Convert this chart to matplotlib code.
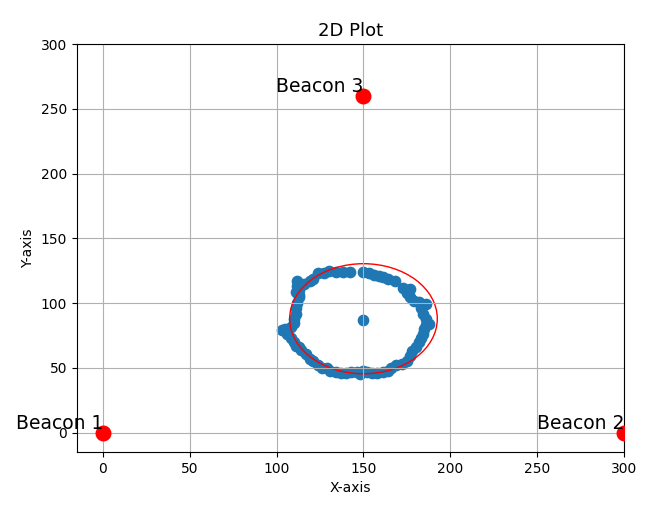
import numpy as np
import matplotlib
matplotlib.use('Agg')
import matplotlib.pyplot as plt
from matplotlib.patches import Circle

# Beacon positions and names
beacon_x = [0, 300, 150]
beacon_y = [0, 0, 260]
beacon_names = ['Beacon 1', 'Beacon 2', 'Beacon 3']

# Estimated positions
pos_x = [112, 112, 111, 113, 112, 111, 111, 110, 110, 108, 105, 103, 106, 108, 110,
         111, 113, 114, 117, 119, 121, 124, 126, 129, 131, 134, 137, 140, 143, 146,
         148, 150, 152, 155, 158, 161, 164, 166, 169, 172, 175, 177, 178, 180, 182,
         183, 184, 185, 186, 188, 186, 184, 183, 186, 182, 179, 177, 175, 177, 173,
         168, 164, 161, 159, 156, 153, 150, 142, 138, 134, 130, 127, 124, 121, 119,
         116, 114, 113, 113, 150]
pos_y = [117, 113, 109, 105, 100, 96, 92, 88, 85, 82, 80, 79, 76, 73, 70,
         67, 66, 64, 61, 57, 55, 52, 50, 50, 48, 47, 46, 46, 47, 47,
         45, 48, 47, 46, 46, 47, 48, 50, 52, 53, 55, 59, 63, 66, 70,
         73, 76, 80, 83, 84, 88, 92, 96, 99, 101, 102, 105, 108, 111, 112,
         117, 119, 120, 121, 122, 123, 124, 124, 124, 124, 125, 123, 123, 119, 117,
         115, 114, 110, 106, 87]

# Fitted circle
circle_center = (150, 88)
circle_radius = 42.5

fig = plt.figure(figsize=(6.46, 5.08), dpi=100)
ax = fig.add_subplot(111)
fig.subplots_adjust(left=0.119, right=0.966, top=0.913, bottom=0.110)

ax.scatter(pos_x, pos_y, s=55, color='#1f77b4')
ax.scatter(beacon_x, beacon_y, s=110, color='red', zorder=3)
for bx, by, name in zip(beacon_x, beacon_y, beacon_names):
    ax.text(bx, by, name, fontsize=13.5, ha='right', va='bottom')

ax.add_patch(Circle(circle_center, circle_radius, fill=False, color='red'))

ax.set_xlim(-15, 300)
ax.set_ylim(-15, 300)
ax.set_xticks(np.arange(0, 301, 50))
ax.set_yticks(np.arange(0, 301, 50))
ax.set_xlabel('X-axis')
ax.set_ylabel('Y-axis')
ax.set_title('2D Plot', fontsize=13)
ax.grid(True)

plt.savefig('out.png', dpi=100)
